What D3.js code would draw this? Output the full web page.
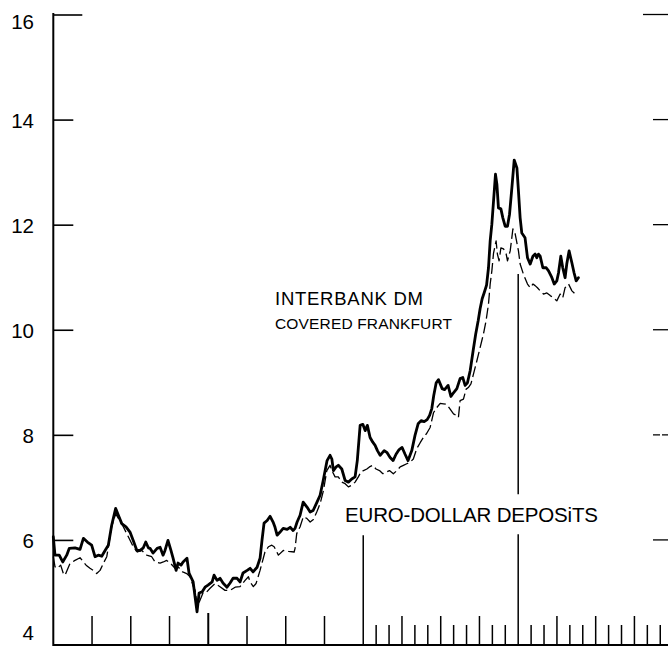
<!DOCTYPE html>
<html><head><meta charset="utf-8">
<script src="https://cdn.jsdelivr.net/npm/d3@7"></script>
<style>
html,body{margin:0;padding:0;background:#fff;}
svg{display:block;}
text{font-family:"Liberation Sans",Arial,Helvetica,sans-serif;fill:#000;}
</style>
</head><body>
<svg id="chart" width="668" height="646"></svg>
<script>
// ---- data (x in months from start of chart, y in percent) ----
const interbankMonth = [0.00,0.13,0.46,0.73,1.04,1.24,1.68,2.07,2.33,2.64,
2.97,3.23,3.48,3.75,4.01,4.26,4.52,4.83,5.04,5.30,
5.63,5.94,6.19,6.47,6.72,6.97,7.16,7.36,7.49,7.72,
8.04,8.27,8.50,8.65,8.88,9.11,9.28,9.51,9.66,9.89,
10.05,10.35,10.51,10.83,10.98,11.13,11.29,11.52,11.75,11.98,
12.30,12.45,12.68,12.91,13.14,13.45,13.69,13.92,14.23,14.46,
14.69,15.01,15.24,15.47,15.78,16.01,16.16,16.32,16.56,16.79,
17.02,17.17,17.33,17.56,17.80,18.11,18.34,18.57,18.72,18.88,
19.11,19.35,19.66,19.89,20.12,20.42,20.66,20.90,21.20,21.43,
21.57,21.69,21.90,22.07,22.34,22.60,22.85,23.11,23.37,23.54,
23.76,23.97,24.15,24.32,24.53,24.74,24.92,25.10,25.31,25.62,
25.85,26.08,26.31,26.54,26.78,27.01,27.24,27.47,27.76,28.01,
28.25,28.48,28.72,28.95,29.14,29.31,29.46,29.65,29.83,29.96,
30.11,30.30,30.57,30.79,30.99,31.25,31.50,31.71,31.89,32.07,
32.28,32.51,32.71,32.90,33.05,33.21,33.36,33.55,33.70,33.83,
33.96,34.09,34.24,34.35,34.47,34.66,34.81,34.99,35.17,35.33,
35.51,35.69,35.90,36.02,36.15,36.28,36.53,36.72,36.93,37.14,
37.31,37.44,37.57,37.70,37.91,38.17,38.35,38.61,38.79,38.99,
39.12,39.30,39.45,39.63,39.76,39.94,40.16,40.33,40.49,40.66];
const interbankRate = [6.06,5.71,5.71,5.58,5.71,5.84,5.85,5.82,6.03,5.96,
5.90,5.68,5.71,5.69,5.80,5.90,6.28,6.60,6.47,6.31,
6.25,6.15,5.99,5.80,5.80,5.85,5.96,5.85,5.84,5.75,
5.84,5.86,5.71,5.80,5.99,5.80,5.65,5.42,5.56,5.52,
5.58,5.65,5.37,5.20,4.91,4.63,4.99,5.01,5.10,5.14,
5.20,5.33,5.23,5.27,5.18,5.10,5.18,5.27,5.27,5.20,
5.37,5.42,5.46,5.39,5.48,5.65,5.99,6.32,6.37,6.45,
6.34,6.24,6.09,6.15,6.22,6.20,6.24,6.18,6.22,6.34,
6.47,6.72,6.62,6.53,6.56,6.72,6.85,7.13,7.51,7.61,
7.54,7.32,7.39,7.42,7.35,7.13,7.10,7.16,7.20,7.51,
8.18,8.20,8.08,8.18,7.95,7.86,7.80,7.70,7.61,7.70,
7.66,7.57,7.51,7.63,7.72,7.76,7.63,7.51,7.70,7.99,
8.21,8.27,8.25,8.29,8.37,8.50,8.75,8.99,9.05,8.97,
8.88,8.86,8.94,8.73,8.80,8.88,9.07,9.09,8.94,8.99,
9.22,9.60,9.92,10.17,10.40,10.59,10.70,10.85,11.18,11.69,
12.01,12.45,12.96,12.77,12.32,12.30,12.13,11.97,11.97,12.20,
12.70,13.23,13.08,12.64,12.13,11.84,11.75,11.37,11.25,11.40,
11.44,11.37,11.44,11.40,11.18,11.18,11.12,10.99,10.87,10.93,
11.08,11.40,11.18,10.99,11.25,11.50,11.27,11.08,10.93,10.99];

const euroMonth = [0.00,0.13,0.31,0.57,0.78,0.91,1.29,1.68,2.07,2.54,
2.84,3.10,3.36,3.62,3.93,4.14,4.52,4.83,5.04,5.42,
5.81,6.19,6.51,6.85,7.23,7.62,7.88,8.27,8.52,8.78,
9.09,9.43,9.69,10.02,10.33,10.59,10.85,10.98,11.16,11.36,
11.62,11.88,12.14,12.53,12.91,13.30,13.69,14.08,14.46,14.85,
15.11,15.24,15.49,15.70,16.01,16.39,16.66,16.92,17.10,17.25,
17.43,17.81,18.21,18.65,18.72,18.85,19.11,19.36,19.63,19.89,
20.14,20.40,20.66,20.92,21.18,21.43,21.57,21.82,22.07,22.34,
22.60,22.85,23.11,23.37,23.62,23.82,24.02,24.28,24.48,24.74,
24.99,25.26,25.52,25.77,26.03,26.33,26.61,26.86,27.11,27.37,
27.63,27.88,28.15,28.41,28.66,28.92,29.18,29.44,29.70,29.96,
30.21,30.47,30.73,30.99,31.20,31.37,31.50,31.76,31.97,32.14,
32.34,32.54,32.80,33.05,33.31,33.51,33.70,33.83,33.96,34.09,
34.29,34.39,34.52,34.66,34.86,35.07,35.17,35.38,35.59,35.77,
36.02,36.15,36.40,36.72,36.93,37.14,37.31,37.49,37.70,37.96,
38.22,38.48,38.73,38.99,39.25,39.45,39.63,39.90,40.16,40.41,
40.59];
const euroRate = [5.68,5.49,5.46,5.52,5.36,5.33,5.55,5.61,5.66,5.52,
5.46,5.42,5.36,5.42,5.58,5.68,6.25,6.50,6.41,6.25,
6.06,5.87,5.77,5.80,5.71,5.68,5.58,5.56,5.58,5.61,
5.55,5.46,5.48,5.39,5.36,5.30,5.11,5.04,4.73,4.85,
5.01,5.01,5.08,5.17,5.11,5.04,5.04,5.10,5.11,5.23,
5.30,5.20,5.11,5.17,5.42,5.77,5.87,5.90,5.87,5.80,
5.71,5.80,5.78,5.77,5.84,6.12,6.25,6.44,6.41,6.34,
6.39,6.53,6.69,6.94,7.32,7.42,7.32,7.20,7.20,7.10,
7.07,7.01,7.04,7.10,7.20,7.29,7.32,7.35,7.39,7.42,
7.35,7.32,7.26,7.29,7.32,7.26,7.32,7.39,7.42,7.45,
7.48,7.54,7.74,7.85,7.95,8.03,8.14,8.42,8.52,8.60,
8.59,8.58,8.49,8.40,8.37,8.33,8.65,8.68,8.87,8.90,
8.97,9.16,9.41,9.66,9.92,10.17,10.49,10.87,11.12,11.46,
11.69,11.44,11.31,11.56,11.54,11.44,11.31,11.50,11.92,11.82,
11.50,11.25,11.06,10.87,10.80,10.87,10.84,10.80,10.74,10.68,
10.70,10.65,10.61,10.55,10.68,10.61,10.80,10.87,10.74,10.68,
10.65];

const yTickValues = [16, 14, 12, 10, 8, 6, 4];
const quarterTicks = [3, 6, 9, 15, 18, 21];
const yearTicks = [12];
const mediumMonthTicks = [27, 30, 33, 39, 42, 45];
const shortMonthTicks = [25, 26, 28, 29, 31, 32, 34, 35, 37, 38, 40, 41, 43, 44, 46, 47];
const markerLines = [
  {month: 24, segments: [[4, 6.09]]},
  {month: 36, segments: [[4, 6.11], [6.87, 11.06]]}
];
const labelInterbank = "INTERBANK DM";
const labelCovered = "COVERED FRANKFURT";
const labelEuro = "EURO-DOLLAR DEPOSiTS";

// ---- drawing ----
const svg = d3.select("#chart");
const x = d3.scaleLinear().domain([0, 47.6]).range([53.3, 668]);
const y = d3.scaleLinear().domain([4, 16]).range([645, 14.5]);
const X0 = x(0);

// left axis with inward ticks
const yAxis = d3.axisLeft(y).tickValues(yTickValues).tickSizeInner(-20).tickSizeOuter(0)
  .tickPadding(X0 - 34).tickFormat(d3.format("d"));
const gy = svg.append("g").attr("transform", `translate(${X0},0)`).call(yAxis);
gy.select(".domain").remove();
gy.selectAll(".tick line").attr("stroke", "#000").attr("stroke-width", 1.6)
  .attr("x2", d => d === 16 ? 29 : (d === 4 ? 0 : 20));
gy.selectAll(".tick text").attr("font-size", 20.5)
  .attr("font-family", '"Liberation Sans",Arial,sans-serif').attr("fill", "#000")
  .attr("dy", null)
  .attr("dominant-baseline", d => d === 4 ? "alphabetic" : "central")
  .attr("y", d => d === 16 ? 6 : (d === 4 ? -6 : 0));

// left axis line and bottom baseline
svg.append("line").attr("x1", X0).attr("x2", X0).attr("y1", y(16) - 1.5).attr("y2", 646)
  .attr("stroke", "#000").attr("stroke-width", 2);
svg.append("line").attr("x1", X0).attr("x2", 668).attr("y1", y(4)).attr("y2", y(4))
  .attr("stroke", "#000").attr("stroke-width", 2);

// right edge ticks
svg.selectAll(".rtick").data(yTickValues.filter(d => d !== 4)).enter().append("line")
  .attr("x1", d => d === 16 ? 643 : 653).attr("x2", 668)
  .attr("y1", d => y(d)).attr("y2", d => y(d))
  .attr("stroke", "#000").attr("stroke-width", 1.3)
  .attr("stroke-dasharray", d => d === 8 ? "7,2" : null);

// bottom ticks
function bottomTicks(arr, len, w) {
  svg.append("g").selectAll("line").data(arr).enter().append("line")
    .attr("x1", d => x(d)).attr("x2", d => x(d))
    .attr("y1", y(4)).attr("y2", y(4) - len)
    .attr("stroke", "#000").attr("stroke-width", w);
}
bottomTicks(quarterTicks, 29, 1.5);
bottomTicks(yearTicks, 32, 2);
bottomTicks(mediumMonthTicks, 29, 1.5);
bottomTicks(shortMonthTicks, 20, 1.5);

// marker vertical lines
markerLines.forEach(m => {
  m.segments.forEach(s => {
    svg.append("line").attr("x1", x(m.month)).attr("x2", x(m.month))
      .attr("y1", y(s[0])).attr("y2", y(s[1]))
      .attr("stroke", "#000").attr("stroke-width", 1.5);
  });
});

// series
const line = d3.line().x(d => x(d[0])).y(d => y(d[1]));
const euroData = euroMonth.map((m, i) => [m, euroRate[i]]);
const interData = interbankMonth.map((m, i) => [m, interbankRate[i]]);
svg.append("path").datum(euroData).attr("d", line).attr("fill", "none")
  .attr("stroke", "#000").attr("stroke-width", 1.3).attr("stroke-dasharray", "11,4")
  .attr("stroke-linejoin", "round");
svg.append("path").datum(interData).attr("d", line).attr("fill", "none")
  .attr("stroke", "#000").attr("stroke-width", 2.8)
  .attr("stroke-linejoin", "round").attr("stroke-linecap", "round");

// labels
svg.append("text").attr("x", 275).attr("y", 305).attr("font-size", 18.5)
  .attr("textLength", 148).attr("lengthAdjust", "spacing").text(labelInterbank);
svg.append("text").attr("x", 275).attr("y", 328.5).attr("font-size", 15.5)
  .attr("textLength", 177).attr("lengthAdjust", "spacing").text(labelCovered);
svg.append("text").attr("x", 345).attr("y", 522).attr("font-size", 20.5)
  .attr("textLength", 253).attr("lengthAdjust", "spacing").text(labelEuro);
</script>
</body></html>
